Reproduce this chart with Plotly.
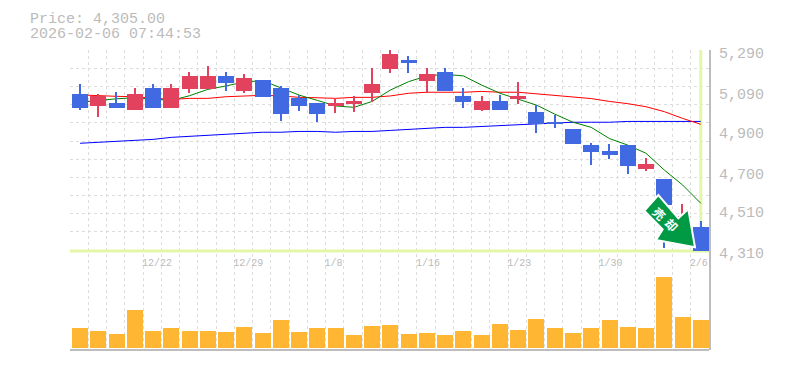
import plotly.graph_objects as go

opens  = [5075,5015,5030,4995,5105,5005,5100,5100,5165,5090,5145,5105,5055,5030,5015,5025,5080,5195,5240,5140,5180,5065,4995,5040,5050,4985,4935,4905,4825,4795,4825,4705,4660,4420,4425]
highs  = [5125,5075,5085,5105,5125,5125,5180,5210,5180,5170,5145,5115,5070,5030,5050,5065,5200,5290,5260,5200,5200,5105,5065,5070,5135,5020,4970,4905,4835,4830,4825,4760,4660,4535,4450]
lows   = [4995,4960,5005,4995,5005,5005,5080,5100,5090,5080,5060,4940,4990,4935,4980,4985,5035,5175,5175,5080,5090,5005,4990,4995,5025,4885,4910,4830,4725,4755,4680,4695,4320,4400,4305]
closes = [5005,5065,5005,5075,5005,5105,5165,5165,5130,5155,5060,4975,5015,4975,5030,5040,5125,5270,5225,5170,5090,5035,5040,4995,5065,4925,4925,4830,4790,4775,4720,4730,4530,4475,4305]
ma_green = [5034,5043,5051,5056,5048,5043,5066,5097,5114,5133,5140,5105,5069,5043,5016,5009,5038,5094,5135,5163,5171,5163,5118,5078,5048,5020,4976,4936,4911,4856,4824,4784,4702,4629,4539]
ma_red   = [5070,5065,5063,5061,5053,5048,5053,5053,5061,5066,5068,5065,5058,5056,5053,5058,5058,5065,5078,5083,5083,5083,5087,5083,5083,5076,5068,5061,5052,5038,5027,5012,4988,4955,4926]
ma_blue  = [4833,4838,4842,4847,4852,4862,4867,4872,4877,4882,4887,4887,4891,4891,4887,4891,4891,4896,4901,4906,4911,4911,4916,4921,4926,4928,4932,4936,4936,4936,4940,4940,4940,4940,4940]
volumes  = [20,17,14,38,17,20,17,17,16,21,15,28,16,20,20,13,22,23,14,15,13,17,13,24,18,29,20,15,20,28,21,20,71,31,28]
date_slots  = [3.45,8.45,13.45,18.45,23.45,28.45,33.45]
date_labels = ["12/22","12/29","1/8","1/16","1/23","1/30","2/6"]
price_ticks  = [5290,5090,4900,4700,4510,4310]
price_labels = ["5,290","5,090","4,900","4,700","4,510","4,310"]
grid_prices  = [5290,5201,5112,5023,4933,4844,4755,4666,4577,4488,4399,4310]
last_price = 4305
title_lines = ["Price: 4,305.00","2026-02-06 07:44:53"]
sell_chars = ["売","却"]

RED, BLUE, ORANGE = "#e3425f", "#4169e1", "#ffb733"
GRID, TEXT, BORDER, CROSS = "#dddddd", "#bbbbbb", "#bdbdbd", "#e4f6a8"
FONT = "Liberation Mono"
L, R, T, B, W, H = 70, 76, 50, 20, 785, 370
PW, PH = W-L-R, H-T-B
n = len(opens)
xs = list(range(n))
colors = [RED if c > o else BLUE for o, c in zip(opens, closes)]
px = lambda x, y: ((x-L)/PW, (H-B-y)/PH)

fig = go.Figure()
# moving averages stay beneath the candles: main subplot
for vals, col in [(ma_blue,"#0000ff"),(ma_red,"#ff0000"),(ma_green,"#008000")]:
    fig.add_trace(go.Scatter(x=xs, y=vals, mode="lines", line=dict(color=col, width=1), yaxis="y", hoverinfo="skip"))
fig.add_trace(go.Bar(x=xs, y=[h-l for h, l in zip(highs, lows)], base=lows, width=0.075,
                     marker=dict(color=colors, line_width=0), yaxis="y3"))
fig.add_trace(go.Bar(x=xs, y=[abs(c-o) for o, c in zip(opens, closes)], base=[min(o, c) for o, c in zip(opens, closes)],
                     width=0.876, marker=dict(color=colors, line_width=0), yaxis="y3"))
fig.add_trace(go.Bar(x=xs, y=volumes, width=0.876, marker=dict(color=ORANGE, line_width=0), yaxis="y2"))

arrow = [(658.3,195),(644.3,210.7),(662.7,229.3),(656,240),(695,247.3),(688.3,209),(678.3,218.3)]
path = "M " + " L ".join(f"{px(*p)[0]:.4f},{px(*p)[1]:.4f}" for p in arrow) + " Z"
shapes = [
    dict(type="line", xref="x", yref="y", x0=-0.55, x1=n-0.55, y0=last_price, y1=last_price, line=dict(color=CROSS, width=3), layer="between"),
    dict(type="line", xref="x", yref="y", x0=n-1, x1=n-1, y0=last_price, y1=price_ticks[0], line=dict(color=CROSS, width=3), layer="between"),
    dict(type="line", xref="paper", yref="paper", x0=0, x1=1, y0=0, y1=0, line=dict(color=BORDER, width=2), layer="above"),
    dict(type="path", xref="paper", yref="paper", path=path, fillcolor="#009944", line=dict(color="#ffffff", width=2), layer="above"),
]
annotations = [
    dict(xref="paper", yref="paper", x=px(27.5,0)[0], y=px(0,19.5)[1], text=title_lines[0], showarrow=False, xanchor="left", yanchor="middle", font=dict(family=FONT, size=15, color=TEXT)),
    dict(xref="paper", yref="paper", x=px(27.5,0)[0], y=px(0,34)[1], text=title_lines[1], showarrow=False, xanchor="left", yanchor="middle", font=dict(family=FONT, size=15, color=TEXT)),
]
for ch, (cx, cy) in zip(sell_chars, [(660, 213), (672, 224.5)]):
    ax, ay = px(cx, cy)
    annotations.append(dict(xref="paper", yref="paper", x=ax, y=ay, xanchor="center", yanchor="middle", text=f"<b>{ch}</b>", showarrow=False, textangle=45,
                            font=dict(family="Noto Sans CJK JP", size=12, color="#ffffff")))
prange = [4310-100*4.9, 5290]
fig.update_layout(
    width=W, height=H, margin=dict(l=L, r=R, t=T, b=B, pad=0), paper_bgcolor="white", plot_bgcolor="white",
    showlegend=False, barmode="overlay", bargap=0, hovermode=False, shapes=shapes, annotations=annotations,
    xaxis=dict(range=[-0.55, n-0.55], anchor="free", position=(H-B-253)/PH, tickmode="array", tickvals=date_slots,
               ticktext=[s.ljust(5, "\u00a0") for s in date_labels], ticks="", ticklabelshift=14, ticklabelstandoff=2,
               tickfont=dict(family=FONT, size=10, color=TEXT), showline=False, zeroline=False,
               showgrid=True, gridcolor=GRID, griddash="3px,3px", gridwidth=1,
               minor=dict(tickmode="array", tickvals=[k-0.55 for k in range(n+1)], ticks="", showgrid=True, gridcolor=GRID, griddash="3px,3px", gridwidth=1)),
    yaxis=dict(range=prange, side="right", tickmode="array", tickvals=grid_prices, showticklabels=False, ticks="",
               showgrid=True, gridcolor=GRID, griddash="3px,3px", gridwidth=1, zeroline=False,
               showline=True, linecolor=BORDER, linewidth=2),
    yaxis2=dict(range=[-2, 298], overlaying="y", visible=False),
    yaxis3=dict(range=prange, overlaying="y", side="right", tickmode="array", tickvals=price_ticks, ticktext=price_labels,
                ticks="", ticklabelshift=3, ticklabelstandoff=9, tickfont=dict(family=FONT, size=15, color=TEXT),
                showgrid=False, zeroline=False, showline=False),
)
fig.write_html("out.html", config=dict(displayModeBar=False), post_script="document.body.style.margin='0';")
